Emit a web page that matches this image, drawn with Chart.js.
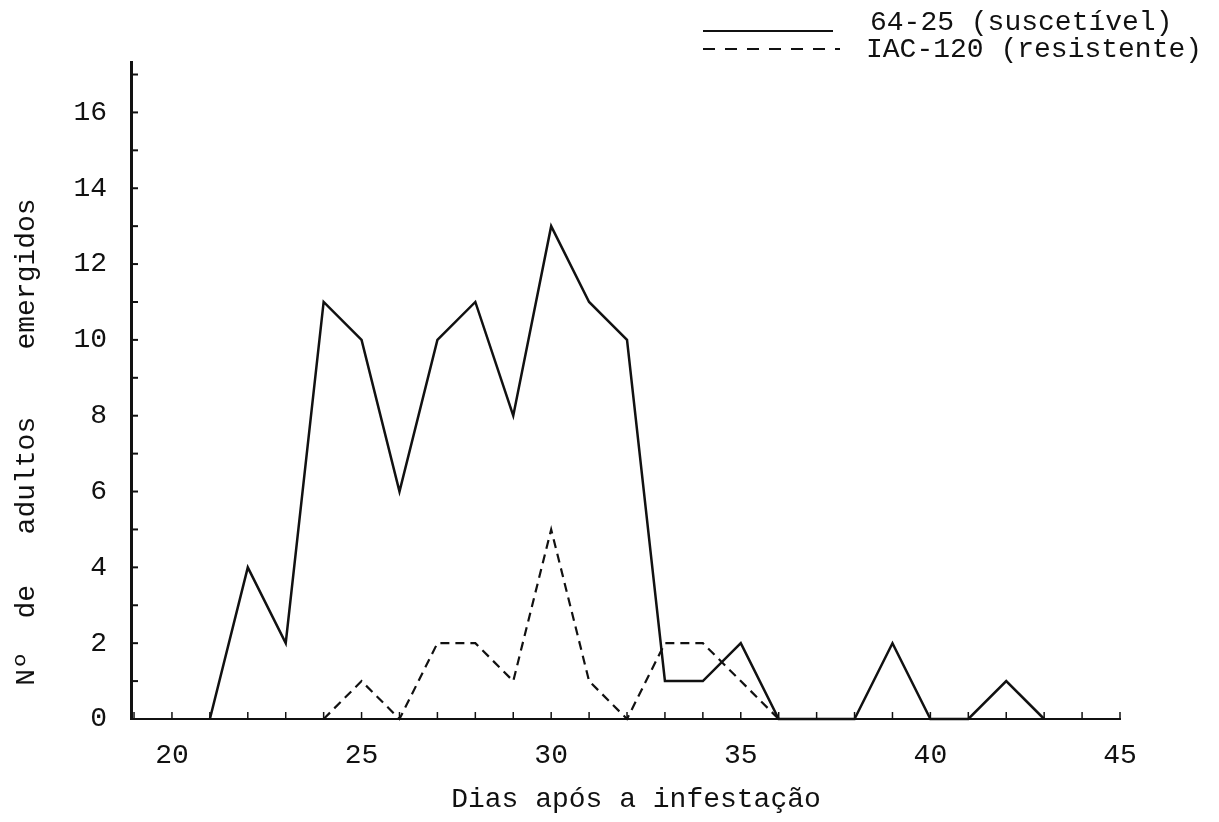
<!DOCTYPE html>
<html>
<head>
<meta charset="utf-8">
<script src="https://cdn.jsdelivr.net/npm/chart.js@4/dist/chart.umd.min.js"></script>
<style>
  body { margin: 0; background: #fff; }
  #wrap { width: 1219px; height: 822px; }
</style>
</head>
<body>
<div id="wrap"><canvas id="grafico" width="1219" height="822"></canvas></div>
<script>
// dados
const diasSusc = [21, 22, 23, 24, 25, 26, 27, 28, 29, 30, 31, 32, 33, 34, 35, 36, 37, 38, 39, 40, 41, 42, 43];
const adultosSusc = [0, 4, 2, 11, 10, 6, 10, 11, 8, 13, 11, 10, 1, 1, 2, 0, 0, 0, 2, 0, 0, 1, 0];

const diasResist = [24, 25, 26, 27, 28, 29, 30, 31, 32, 33, 34, 35, 36];
const adultosResist = [0, 1, 0, 2, 2, 1, 5, 1, 0, 2, 2, 1, 0];

const xTicks = [19, 20, 21, 22, 23, 24, 25, 26, 27, 28, 29, 30, 31, 32, 33, 34, 35, 36, 37, 38, 39, 40, 41, 42, 43, 44, 45];
const xTickLabels = [20, 25, 30, 35, 40, 45];
const yTicks = [0, 1, 2, 3, 4, 5, 6, 7, 8, 9, 10, 11, 12, 13, 14, 15, 16, 17];
const yTickLabels = [0, 2, 4, 6, 8, 10, 12, 14, 16];

const legenda = ['64-25 (suscetível)', 'IAC-120 (resistente)'];
const tituloX = 'Dias após a infestação';
const tituloY = 'Nº  de   adultos    emergidos';

const fonte = "'Liberation Mono', 'DejaVu Sans Mono', monospace";
const tinta = '#111111';

function pontos(xs, ys) {
    return xs.map((x, i) => ({ x: x, y: ys[i] }));
}

// marcas, títulos e legenda no estilo datilografado
const papel = {
    id: 'papel',
    afterDraw(chart) {
        const ctx = chart.ctx;
        const sx = chart.scales.x;
        const sy = chart.scales.y;
        const area = chart.chartArea;
        ctx.save();
        ctx.strokeStyle = tinta;
        ctx.fillStyle = tinta;

        // tracinhos do eixo y (para dentro)
        ctx.lineWidth = 2;
        yTicks.forEach(v => {
            if (v === 0) return;
            const py = sy.getPixelForValue(v);
            ctx.beginPath();
            ctx.moveTo(area.left + 2, py);
            ctx.lineTo(area.left + 7, py);
            ctx.stroke();
        });
        // tracinhos do eixo x
        ctx.lineWidth = 1.5;
        xTicks.forEach(v => {
            const px = sx.getPixelForValue(v);
            ctx.beginPath();
            ctx.moveTo(px, area.bottom);
            ctx.lineTo(px, area.bottom - 7);
            ctx.stroke();
        });

        // título x
        ctx.font = '28px ' + fonte;
        ctx.textAlign = 'center';
        ctx.textBaseline = 'middle';
        ctx.fillText(tituloX, 636, 800);

        // título y
        ctx.save();
        ctx.translate(27, 442);
        ctx.rotate(-Math.PI / 2);
        ctx.fillText(tituloY, 0, 0);
        ctx.restore();

        // legenda
        ctx.textAlign = 'left';
        ctx.textBaseline = 'alphabetic';
        ctx.lineWidth = 2;
        ctx.beginPath();
        ctx.moveTo(703, 31);
        ctx.lineTo(833, 31);
        ctx.stroke();
        ctx.fillText(legenda[0], 870, 30);

        ctx.setLineDash([12, 10]);
        ctx.beginPath();
        ctx.moveTo(703, 49);
        ctx.lineTo(840, 49);
        ctx.stroke();
        ctx.setLineDash([]);
        ctx.fillText(legenda[1], 866, 57);
        ctx.restore();
    }
};

const ctx = document.getElementById('grafico').getContext('2d');
new Chart(ctx, {
    type: 'line',
    data: {
        datasets: [{
            label: legenda[0],
            data: pontos(diasSusc, adultosSusc),
            borderColor: tinta,
            borderWidth: 2.5,
            pointRadius: 0,
            tension: 0,
            clip: false
        }, {
            label: legenda[1],
            data: pontos(diasResist, adultosResist),
            borderColor: tinta,
            borderWidth: 2.2,
            borderDash: [9, 6],
            pointRadius: 0,
            tension: 0,
            clip: false
        }]
    },
    options: {
        responsive: false,
        animation: false,
        devicePixelRatio: 1,
        layout: { padding: { top: 62, right: 99, bottom: 0, left: 0 } },
        plugins: {
            legend: { display: false },
            tooltip: { enabled: false }
        },
        scales: {
            x: {
                type: 'linear',
                min: 18.92,
                max: 45,
                grid: { display: false },
                border: { display: true, color: tinta, width: 2 },
                afterBuildTicks: s => { s.ticks = xTicks.map(v => ({ value: v })); },
                afterFit: s => { s.height = 103; },
                ticks: {
                    autoSkip: false,
                    maxRotation: 0,
                    padding: 12,
                    color: tinta,
                    font: { family: fonte, size: 28 },
                    callback: v => xTickLabels.includes(v) ? String(v) : ''
                }
            },
            y: {
                type: 'linear',
                min: 0,
                max: 17.33,
                grid: { display: false },
                border: { display: true, color: tinta, width: 3 },
                afterBuildTicks: s => { s.ticks = yTicks.map(v => ({ value: v })); },
                afterFit: s => { s.width = 131; },
                ticks: {
                    autoSkip: false,
                    padding: 16,
                    color: tinta,
                    font: { family: fonte, size: 28 },
                    callback: v => yTickLabels.includes(v) ? String(v) : ''
                }
            }
        }
    },
    plugins: [papel]
});
</script>
</body>
</html>
